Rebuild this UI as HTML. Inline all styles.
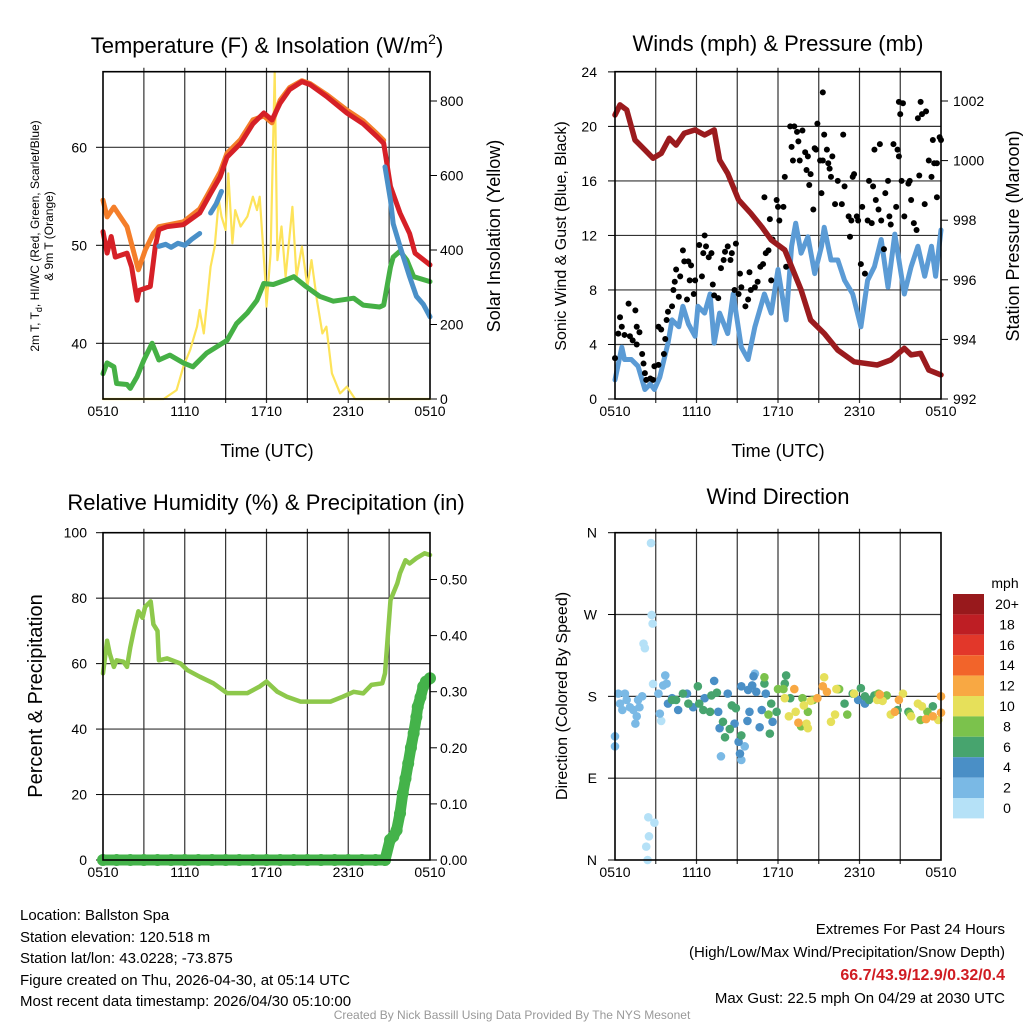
<!DOCTYPE html>
<html><head><meta charset="utf-8"><style>
html,body{margin:0;padding:0;background:#fff;}
svg{display:block;font-family:"Liberation Sans",sans-serif;}
</style></head><body>
<svg id="chart" width="1024" height="1024" viewBox="0 0 1024 1024" xmlns="http://www.w3.org/2000/svg">
<rect x="0" y="0" width="1024" height="1024" fill="#fff"/>
<g id="p1"></g>
<g id="p2"></g>
<g id="p3"></g>
<g id="p4"></g>
<text x="267" y="53" font-size="22" text-anchor="middle">Temperature (F) &amp; Insolation (W/m<tspan font-size="14" dy="-9">2</tspan><tspan dy="9">)</tspan></text>
<text x="778" y="51" font-size="22" text-anchor="middle">Winds (mph) &amp; Pressure (mb)</text>
<text x="266" y="510" font-size="22" text-anchor="middle">Relative Humidity (%) &amp; Precipitation (in)</text>
<text x="778" y="504" font-size="22" text-anchor="middle">Wind Direction</text>
<text x="267" y="457" font-size="18" text-anchor="middle">Time (UTC)</text>
<text x="778" y="457" font-size="18" text-anchor="middle">Time (UTC)</text>
<text transform="translate(39,236) rotate(-90)" font-size="12" text-anchor="middle">2m T, T<tspan font-size="9" dy="3">d</tspan><tspan dy="-3">, HI/WC (Red, Green, Scarlet/Blue)</tspan></text>
<text transform="translate(53,236) rotate(-90)" font-size="12" text-anchor="middle">&amp; 9m T (Orange)</text>
<text transform="translate(500,236) rotate(-90)" font-size="18" text-anchor="middle">Solar Insolation (Yellow)</text>
<text transform="translate(566,236) rotate(-90)" font-size="16" text-anchor="middle">Sonic Wind &amp; Gust (Blue, Black)</text>
<text transform="translate(1019,236) rotate(-90)" font-size="18" text-anchor="middle">Station Pressure (Maroon)</text>
<text transform="translate(42,696) rotate(-90)" font-size="20" text-anchor="middle">Percent &amp; Precipitation</text>
<text transform="translate(567,696) rotate(-90)" font-size="16" text-anchor="middle">Direction (Colored By Speed)</text>
<g id="cbar"></g>
<text x="1005" y="588" font-size="14" text-anchor="middle">mph</text>
<g font-size="15">
<text x="20" y="920">Location: Ballston Spa</text>
<text x="20" y="942">Station elevation: 120.518 m</text>
<text x="20" y="963">Station lat/lon: 43.0228; -73.875</text>
<text x="20" y="985">Figure created on Thu, 2026-04-30, at 05:14 UTC</text>
<text x="20" y="1006">Most recent data timestamp: 2026/04/30 05:10:00</text>
</g>
<g font-size="15" text-anchor="end">
<text x="1005" y="934">Extremes For Past 24 Hours</text>
<text x="1005" y="957">(High/Low/Max Wind/Precipitation/Snow Depth)</text>
<text x="1005" y="980" fill="#d01c22" font-weight="bold" font-size="16">66.7/43.9/12.9/0.32/0.4</text>
<text x="1005" y="1003">Max Gust: 22.5 mph On 04/29 at 2030 UTC</text>
</g>
<text x="512" y="1019" font-size="12" fill="#999" text-anchor="middle">Created By Nick Bassill Using Data Provided By The NYS Mesonet</text>
</svg>
<script>
// ---------- data ----------
const timeLabels = ["0510","1110","1710","2310","0510"];
const tempTicks = [40,50,60];
const solarTicks = [0,200,400,600,800];
const windTicks = [0,4,8,12,16,20,24];
const presTicks = [992,994,996,998,1000,1002];
const rhTicks = [0,20,40,60,80,100];
const precipTicks = [0,0.1,0.2,0.3,0.4,0.5];
const precipTickLabels = ["0.00","0.10","0.20","0.30","0.40","0.50"];
const dirTicks = [0,90,180,270,360];
const dirTickLabels = ["N","E","S","W","N"];

const t2Hours = [0,0.3,0.6,0.9,1.76,2.1,2.5,2.66,3.47,3.84,4.1,4.7,5.9,7.1,7.9,8.6,9.1,10.1,11.0,11.8,12.4,13.0,13.7,14.6,15.2,16.4,17.9,19.1,20.1,20.6,21.1,21.8,22.5,22.9,24];
const t2Vals = [51.4,49.2,50.9,48.8,49.2,47.8,44.4,45.4,45.8,49.9,51.6,51.9,52.1,53.3,55.3,57.0,59.0,60.4,62.4,63.5,62.8,64.5,65.9,66.7,66.4,65.2,63.5,62.4,61.1,60.4,56.0,53.3,51.2,49.2,48.0];
const t9Hours = [0,0.3,0.8,1.76,2.6,3.1,3.7,4.1,5.9,7.1,7.9,8.6,9.1,10.1,11.0,11.8,12.4,13.0,13.7,14.6,15.2,16.4,17.9,19.1,20.1,20.6];
const t9Vals = [54.6,52.9,53.9,51.9,47.5,49.5,51.2,51.9,52.4,53.7,55.7,57.5,59.4,60.8,62.8,63.2,62.5,64.8,66.1,66.8,66.5,65.4,63.8,62.7,61.4,60.7];
const hiHoursA = [4.1,4.6,5.0,5.5,6.0,6.5,7.1];
const hiValsA = [49.9,50.1,49.8,50.2,50.0,50.6,51.2];
const hiHoursB = [7.9,8.3,8.7];
const hiValsB = [53.3,54.2,55.5];
const hiHoursC = [20.7,21.1,21.3,21.8,22.5,23.0,23.5,24];
const hiValsC = [58.0,54.6,52.2,49.9,46.8,44.8,44.0,42.7];
const tdHours = [0,0.3,0.8,1.0,1.76,2.0,2.5,3.0,3.6,4.1,4.9,5.9,6.6,7.6,9.1,9.8,10.6,11.3,11.8,12.5,13.5,14.0,14.9,15.9,16.9,18.4,19.1,20.3,20.6,21.1,21.3,21.8,22.3,22.8,24];
const tdVals = [36.9,38.0,37.6,35.9,35.8,35.4,36.6,38.3,40.0,38.3,38.8,38.0,37.6,39.0,40.3,42.0,43.1,44.4,46.1,46.0,46.5,46.8,45.8,44.8,44.3,44.6,43.9,43.7,43.9,47.8,48.8,49.4,48.5,46.8,46.3];
const solarHours = [0,4.45,5.4,5.9,6.4,6.9,7.1,7.4,7.6,7.9,8.2,8.5,8.7,9.0,9.2,9.5,9.7,10.1,10.6,11.0,11.3,11.5,11.9,12.0,12.3,12.6,12.8,13.1,13.4,13.9,14.2,14.6,15.0,15.3,15.7,16.1,16.4,16.8,17.4,17.9,18.5,24];
const solarVals = [0,0,24,87,132,194,239,176,248,355,409,534,490,454,606,418,507,463,490,543,507,543,328,248,391,878,373,463,328,516,328,409,302,373,266,176,194,69,15,33,0,0];

const windHours = [0,0.5,0.7,1.2,1.7,2.2,2.6,2.9,3.3,3.9,4.2,4.7,5.0,5.4,5.9,6.1,6.6,7.0,7.3,7.7,8.3,8.7,9.3,9.8,10.3,11.0,11.5,12.0,12.6,13.0,13.3,13.7,14.2,14.7,15.2,15.4,15.9,16.4,16.9,17.5,18.1,18.6,19.1,19.6,20.1,20.6,20.9,21.3,21.8,22.3,22.8,23.3,23.6,24];
const windVals = [1.4,3.8,2.9,2.9,2.4,0.7,1.1,0.7,1.6,4.1,5.8,5.3,6.8,5.5,4.6,6.8,6.3,7.7,4.1,6.3,4.8,7.7,3.8,2.9,5.3,7.7,6.3,9.5,5.8,11.2,12.9,10.7,11.9,9.2,11.2,12.6,10.2,10.2,8.7,7.7,5.3,8.7,9.7,11.7,8.2,12.1,10.2,7.7,9.7,11.2,9.0,11.2,9.0,12.4];
const gustHours = [0,0.24,0.37,0.5,0.7,1.0,1.1,1.3,1.5,1.6,1.6,1.8,2.0,2.1,2.2,2.3,2.6,2.8,2.9,3.2,3.2,3.4,3.6,3.7,3.8,3.9,4.2,4.3,4.4,4.5,4.7,4.8,5.0,5.1,5.3,5.4,5.5,5.6,5.8,5.9,6.2,6.4,6.5,6.6,6.7,6.9,7.1,7.2,7.3,7.6,7.8,8.0,8.1,8.3,8.5,8.6,8.8,8.9,9.1,9.2,9.3,9.6,9.8,9.9,10.0,10.3,10.5,10.7,10.9,11.0,11.1,11.3,11.4,11.5,11.6,11.9,12.0,12.1,12.4,12.5,12.6,12.9,13.0,13.1,13.2,13.4,13.5,13.6,13.8,14.0,14.1,14.2,14.3,14.4,14.6,14.7,14.8,14.9,15.1,15.2,15.3,15.3,15.4,15.6,15.7,15.8,15.9,16.0,16.2,16.4,16.7,16.8,16.9,17.2,17.3,17.4,17.5,17.6,17.8,17.9,18.1,18.2,18.4,18.6,18.7,18.9,19.0,19.1,19.2,19.4,19.5,19.6,19.8,19.9,20.1,20.2,20.3,20.5,20.7,20.8,20.9,20.9,21.2,21.0,21.1,21.3,21.6,21.7,21.8,22.0,22.2,22.3,22.4,22.5,22.6,22.8,22.9,23.1,23.3,23.4,23.5,23.7,23.7,23.9,24];
const gustVals = [3.0,4.8,6.0,5.3,4.7,7.0,4.6,4.3,6.5,5.3,4.0,4.9,3.3,2.6,1.9,1.4,1.5,1.4,2.4,2.5,5.3,5.1,3.3,4.4,5.8,6.4,6.8,8.0,8.6,9.5,7.5,9.0,10.9,10.1,7.3,10.1,8.7,9.8,7.7,8.7,11.3,9.0,10.7,12.0,11.2,10.4,10.7,8.4,7.6,7.4,9.6,10.2,10.8,11.2,10.2,10.7,8.0,11.4,7.7,9.2,8.2,6.8,7.3,9.3,8.0,8.2,8.6,9.7,9.9,14.8,10.7,10.9,13.2,8.7,11.7,14.6,14.1,13.1,14.1,16.3,9.7,20.0,18.5,17.5,20.0,19.6,18.9,17.5,19.7,18.1,16.8,17.8,15.7,16.5,13.9,18.4,18.3,20.2,17.5,15.1,17.5,22.5,19.4,18.3,17.3,16.9,16.3,17.8,14.3,16.0,14.3,19.4,15.6,13.4,11.9,13.1,16.3,16.5,13.4,13.1,9.9,14.1,9.2,13.1,16.0,12.9,15.6,18.3,14.6,13.9,18.7,13.1,11.0,15.1,16.0,13.4,12.8,18.7,14.1,18.3,17.8,21.8,21.7,20.9,16.0,13.4,15.8,16.0,14.6,12.9,12.4,20.6,16.4,21.8,20.9,14.3,21.1,17.5,16.3,19.0,17.3,17.3,14.8,19.2,19.0];
const presHours = [0,0.37,0.86,1.47,2.2,2.8,3.4,4.0,4.5,5.1,5.9,6.6,7.3,7.7,8.3,9.1,10.0,10.8,11.5,12.5,13.0,13.7,14.4,15.4,16.4,17.6,19.3,20.3,21.3,21.8,22.5,23.1,24];
const presVals = [1001.53,1001.87,1001.70,1000.69,1000.36,1000.08,1000.24,1000.75,1000.52,1000.92,1001.03,1000.86,1001.03,1000.02,999.57,998.68,998.23,997.78,997.34,997.00,996.44,995.66,994.65,994.20,993.64,993.25,993.14,993.31,993.70,993.48,993.53,992.97,992.81];

const rhHours = [0,0.3,0.5,0.8,1.0,1.5,1.76,2.0,2.25,2.6,2.9,3.1,3.5,3.7,4.0,4.1,4.7,5.7,6.2,7.1,8.1,9.1,9.8,10.6,11.5,12.0,12.8,13.5,14.5,15.4,16.7,17.6,18.4,19.1,19.7,20.5,20.7,21.1,21.6,21.8,22.2,22.5,23.0,23.6,24];
const rhVals = [57,67,63,59,61,60.6,59,65,70,76,74,77.4,79,72,70,61,61.6,60,58,56,54,51,51,51,53,54.5,51.4,49.9,48.4,48.4,48.4,49.9,51.4,50.9,53.5,54,57,79.4,84.5,87.6,91.6,90.6,92.2,93.7,93.2];
const precipHours = [0,1,2,3,4,5,6,7,8,9,10,11,12,13,14,15,16,17,18,19,20,20.7,21.07,21.3,21.55,21.8,22.0,22.2,22.4,22.6,22.8,23.0,23.1,23.3,23.5,23.7,24];
const precipVals = [0,0,0,0,0,0,0,0,0,0,0,0,0,0,0,0,0,0,0,0,0,0,0.036,0.042,0.053,0.083,0.119,0.145,0.172,0.2,0.226,0.255,0.273,0.29,0.309,0.318,0.324];

const dirHours = [2.65,2.7,2.77,2.1,2.2,2.8,2.45,2.9,2.5,2.3,2.4,3.4,
 0,0,0.24,0.37,0.73,0.86,1.1,1.35,1.5,1.6,1.7,1.8,2.0,0.54,3.2,3.55,3.7,3.8,3.3,7.8,9.55,9.3,10.3,
 3.9,4.2,4.65,5.3,5.75,7.3,6.6,7.6,8.3,7.7,8.8,9.1,9.2,9.3,9.8,10.1,10.2,10.4,11.1,10.65,9.9,9.75,10.8,11.6,17.9,18.4,
 4.2,4.5,5.0,5.4,6.1,6.2,6.5,7.0,7.1,7.5,7.95,8.45,8.6,8.1,8.9,9.3,11.0,11.4,11.5,11.9,12.6,12.5,12.9,16.4,16.9,17.5,18.1,18.7,19.1,20.8,21.6,23.4,18.4,19.6,
 11.0,12.0,12.4,11.3,13.8,14.2,14.6,16.5,17.1,19.4,20.0,21.7,22.5,23.0,13.7,
 12.5,12.8,13.3,13.9,14.4,14.1,14.2,15.4,16.2,16.3,15.9,17.6,19.3,19.7,20.3,21.2,22.3,22.6,21.8,23.8,
 13.2,13.5,14.9,15.3,15.6,19.5,20.6,20.9,22.9,23.4,24,24];
const dirVals = [348.6,269.5,260,238,233,193.6,47,41,26,14.7,0,153,
 136,125,183,172,183,176,168,165,150,158,176,168,180,165,183,192,203,194,161,114,125,110,205,
 172,178,165,183,168,197,178,163,183,145,150,130,117,191,187,192,202,185,183,146,163,153,165,152,176,172,
 176,176,183,172,191,172,165,163,181,184,152,144,170,135,167,137,194,139,172,163,203,194,178,188,172,183,189,176,181,165,163,169,180,176,
 201,188,188,160,178,163,176,188,160,183,181,161,154,163,147,
 178,158,163,170,175,150,145,201,160,188,152,183,176,175,160,183,172,169,158,154,
 188,151,178,191,185,182,163,176,155,158,180,162];
const dirSpeeds = [1,1,1,1,1,1,1,1,1,1,1,1,
 3,3,3,3,3,3,3,3,3,3,3,3,3,3,3,3,3,3,3,3,3,3,3,
 5,5,5,5,5,5,5,5,5,5,5,5,5,5,5,5,5,5,5,5,5,5,5,5,5,5,
 7,7,7,7,7,7,7,7,7,7,7,7,7,7,7,7,7,7,7,7,7,7,7,7,7,7,7,7,7,7,7,7,7,7,
 9,9,9,9,9,9,9,9,9,9,9,9,9,9,9,
 11,11,11,11,11,11,11,11,11,11,11,11,11,11,11,11,11,11,11,11,
 13,13,13,13,13,13,13,13,13,13,13,13];

const cbarLabels = ["20+","18","16","14","12","10","8","6","4","2","0"];
const cbarColors = ["#98191c","#be1e24","#e2372a","#f2642a","#f8a843","#e6e05a","#7bc24c","#47a46e","#4a8fc6","#7ab9e5","#b5e1f7"];

// ---------- helpers ----------
const NS = "http://www.w3.org/2000/svg";
function mk(parent, tag, attrs){
  const el = document.createElementNS(NS, tag);
  for (const k in attrs) el.setAttribute(k, attrs[k]);
  parent.appendChild(el);
  return el;
}
function speedColor(s){
  const idx = Math.min(10, Math.floor(s/2));
  return cbarColors[10-idx];
}
function frame(g, x0, x1, y0, y1, name){
  const xs = h => x0 + (h/24)*(x1-x0);
  for (let h=3; h<24; h+=3){
    const l = mk(g,"line",{x1:xs(h),x2:xs(h),y1:y0-4,y2:y1+4,stroke:"#333","stroke-width":1.2});
    
    
  }
  timeLabels.forEach((lab,i)=>{
    const t = mk(g,"text",{x:xs(i*6),y:y1+17,"font-size":14,"text-anchor":"middle"});
    t.textContent = lab;
    
    
  });
  return xs;
}
function hgrid(g, x0, x1, y, name){
  const l = mk(g,"line",{x1:x0,x2:x1,y1:y,y2:y,stroke:"#333","stroke-width":1.2});
  
  
}
function tickLabel(g, axisX, x, y, txt, anchor, name){
  const t = mk(g,"text",{x:x,y:y+5,"font-size":14,"text-anchor":anchor});
  t.textContent = txt;
  
  
  const dx = anchor==="end" ? -7 : 7;
  const tk = mk(g,"line",{x1:axisX,x2:axisX+dx,y1:y,y2:y,stroke:"#000","stroke-width":1});
  
  
}
function poly(g, hs, vs, xs, ys, color, w, name){
  const pts = hs.map((h,i)=> xs(h).toFixed(1)+","+ys(vs[i]).toFixed(1)).join(" ");
  const p = mk(g,"polyline",{points:pts,fill:"none",stroke:color,"stroke-width":w,"stroke-linejoin":"round","stroke-linecap":"round"});
  
  
}
function box(g,x0,x1,y0,y1,name){
  const r = mk(g,"rect",{x:x0,y:y0,width:x1-x0,height:y1-y0,fill:"none",stroke:"#000","stroke-width":1.6});
  
  
}

// ---------- panel 1 ----------
(function(){
  const g = document.getElementById("p1");
  const X0=103,X1=430,Y0=71.7,Y1=399;
  const xs = frame(g,X0,X1,Y0,Y1,"temp");
  const yT = v => 147.3 + (60-v)*9.8;
  const yS = v => Math.max(Y0, 399 - v*0.3725);
  tempTicks.forEach(v=>{ hgrid(g,X0,X1,yT(v),"temp-hgrid"); tickLabel(g,X0,87,yT(v),String(v),"end","temp-y-tick-label"); });
  solarTicks.forEach(v=> tickLabel(g,X1,440,yS(v),String(v),"start","solar-y-tick-label"));
  poly(g,solarHours,solarVals,xs,yS,"#fde35a",2.2,"solar-line");
  poly(g,tdHours,tdVals,xs,yT,"#45b045",5,"dewpoint-line");
  poly(g,t9Hours,t9Vals,xs,yT,"#f47e2a",5,"temp-9m-line");
  poly(g,t2Hours,t2Vals,xs,yT,"#d62027",5,"temp-2m-line");
  poly(g,hiHoursA,hiValsA,xs,yT,"#4a90c8",5,"heat-index-line-a");
  poly(g,hiHoursB,hiValsB,xs,yT,"#4a90c8",5,"heat-index-line-b");
  poly(g,hiHoursC,hiValsC,xs,yT,"#4a90c8",5,"wind-chill-line");
  box(g,X0,X1,Y0,Y1,"temp-plot-frame");
})();

// ---------- panel 2 ----------
(function(){
  const g = document.getElementById("p2");
  const X0=615,X1=941,Y0=71.7,Y1=399;
  const xs = frame(g,X0,X1,Y0,Y1,"wind");
  const yW = v => 399 - v*13.63;
  const yP = v => 399 - (v-992)*29.8;
  windTicks.forEach(v=>{ if(v>0&&v<24) hgrid(g,X0,X1,yW(v),"wind-hgrid"); tickLabel(g,X0,597,yW(v),String(v),"end","wind-y-tick-label"); });
  presTicks.forEach(v=> tickLabel(g,X1,953,yP(v),String(v),"start","pressure-y-tick-label"));
  poly(g,windHours,windVals,xs,yW,"#5b9bd5",5,"sonic-wind-line");
  gustHours.forEach((h,i)=>{
    const c = mk(g,"circle",{cx:xs(h),cy:yW(gustVals[i]),r:3,fill:"#000"});
    
    
  });
  poly(g,presHours,presVals,xs,yP,"#9b1b1e",5.5,"pressure-line");
  box(g,X0,X1,Y0,Y1,"wind-plot-frame");
})();

// ---------- panel 3 ----------
(function(){
  const g = document.getElementById("p3");
  const X0=103,X1=430,Y0=532.7,Y1=860;
  const xs = frame(g,X0,X1,Y0,Y1,"rh");
  const yR = v => 860 - v*3.273;
  const yQ = v => 860 - v*561;
  rhTicks.forEach(v=>{ if(v>0&&v<100) hgrid(g,X0,X1,yR(v),"rh-hgrid"); tickLabel(g,X0,87,yR(v),String(v),"end","rh-y-tick-label"); });
  precipTicks.forEach((v,i)=> tickLabel(g,X1,440,yQ(v),precipTickLabels[i],"start","precip-y-tick-label"));
  poly(g,rhHours,rhVals,xs,yR,"#8dc84b",4.5,"rh-line");
  poly(g,precipHours,precipVals,xs,yQ,"#44b34a",11,"precip-line");
  precipHours.forEach((h,i)=>{
    const c = mk(g,"circle",{cx:xs(h),cy:yQ(precipVals[i]),r:6,fill:"#44b34a"});
    
    
  });
  box(g,X0,X1,Y0,Y1,"rh-plot-frame");
})();

// ---------- panel 4 ----------
(function(){
  const g = document.getElementById("p4");
  const X0=615,X1=941,Y0=532.7,Y1=860;
  const xs = frame(g,X0,X1,Y0,Y1,"dir");
  const yD = v => 860 - v/360*327.3;
  dirTicks.forEach((v,i)=>{ if(v>0&&v<360) hgrid(g,X0,X1,yD(v),"dir-hgrid"); tickLabel(g,X0,597,yD(v),dirTickLabels[i],"end","dir-y-tick-label"); });
  dirHours.forEach((h,i)=>{
    const c = mk(g,"circle",{cx:xs(h),cy:yD(dirVals[i]),r:4.3,fill:speedColor(dirSpeeds[i])});
    
    
  });
  box(g,X0,X1,Y0,Y1,"dir-plot-frame");
  const cb = document.getElementById("cbar");
  cbarColors.forEach((col,i)=>{
    const r = mk(cb,"rect",{x:953,y:594+i*20.4,width:31,height:20.4,fill:col});
    
    
    const t = mk(cb,"text",{x:1007,y:594+i*20.4+15,"font-size":14,"text-anchor":"middle"});
    t.textContent = cbarLabels[i];
    
    
  });
})();
</script>
</body></html>
